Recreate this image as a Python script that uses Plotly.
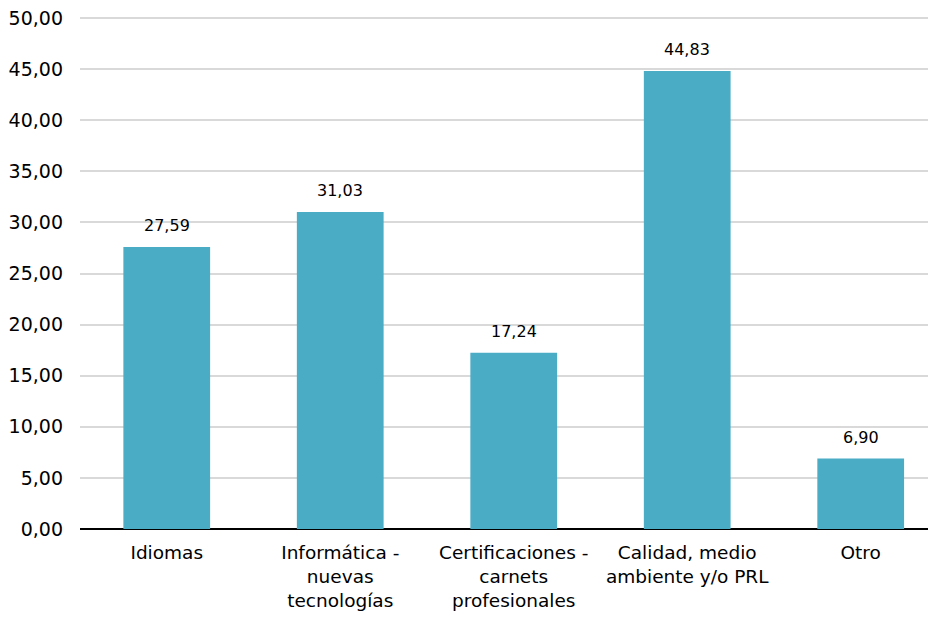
import plotly.graph_objects as go

categories = ["Idiomas", "Informática -<br>nuevas<br>tecnologías", "Certificaciones -<br>carnets<br>profesionales",
              "Calidad, medio<br>ambiente y/o PRL", "Otro"]
values = [27.59, 31.03, 17.24, 44.83, 6.90]
y_ticks = [0, 5, 10, 15, 20, 25, 30, 35, 40, 45, 50]

FONT = "DejaVu Sans"
BAR = "#4BACC6"

x_idx = list(range(len(categories)))
fig = go.Figure()
fig.add_trace(go.Bar(x=x_idx, y=values, width=0.5, marker=dict(color=BAR, line=dict(width=0)),
                     hoverinfo="skip"))

for i, v in zip(x_idx, values):
    fig.add_annotation(x=i, y=v, text=f"{v:.2f}".replace(".", ","), showarrow=False,
                       yanchor="bottom", yshift=10, font=dict(family=FONT, size=16, color="#000000"))

fig.update_layout(
    width=928, height=609,
    margin=dict(l=72, r=0, t=5, b=88),
    plot_bgcolor="white", paper_bgcolor="white",
    separators=",.",
    showlegend=False,
    font=dict(family=FONT, size=18, color="#000000"),
    bargap=0.5,
)
fig.update_xaxes(range=[-0.5, 4.434], tickmode="array", tickvals=x_idx, ticktext=categories,
                 showgrid=False, showline=False, ticks="", tickfont=dict(family=FONT, size=18.5),
                 ticklabelstandoff=10, automargin=False, fixedrange=True)
fig.update_yaxes(range=[0, 50.5], tickmode="array", tickvals=y_ticks, tickformat=".2f",
                 showgrid=True, gridcolor="#D9D9D9", gridwidth=1.5,
                 zeroline=True, zerolinecolor="#000000", zerolinewidth=2,
                 showline=False, ticks="", ticklabelstandoff=16, automargin=False,
                 ticklabeloverflow="allow",
                 tickfont=dict(family=FONT, size=19), fixedrange=True)

fig.write_html("out.html")
